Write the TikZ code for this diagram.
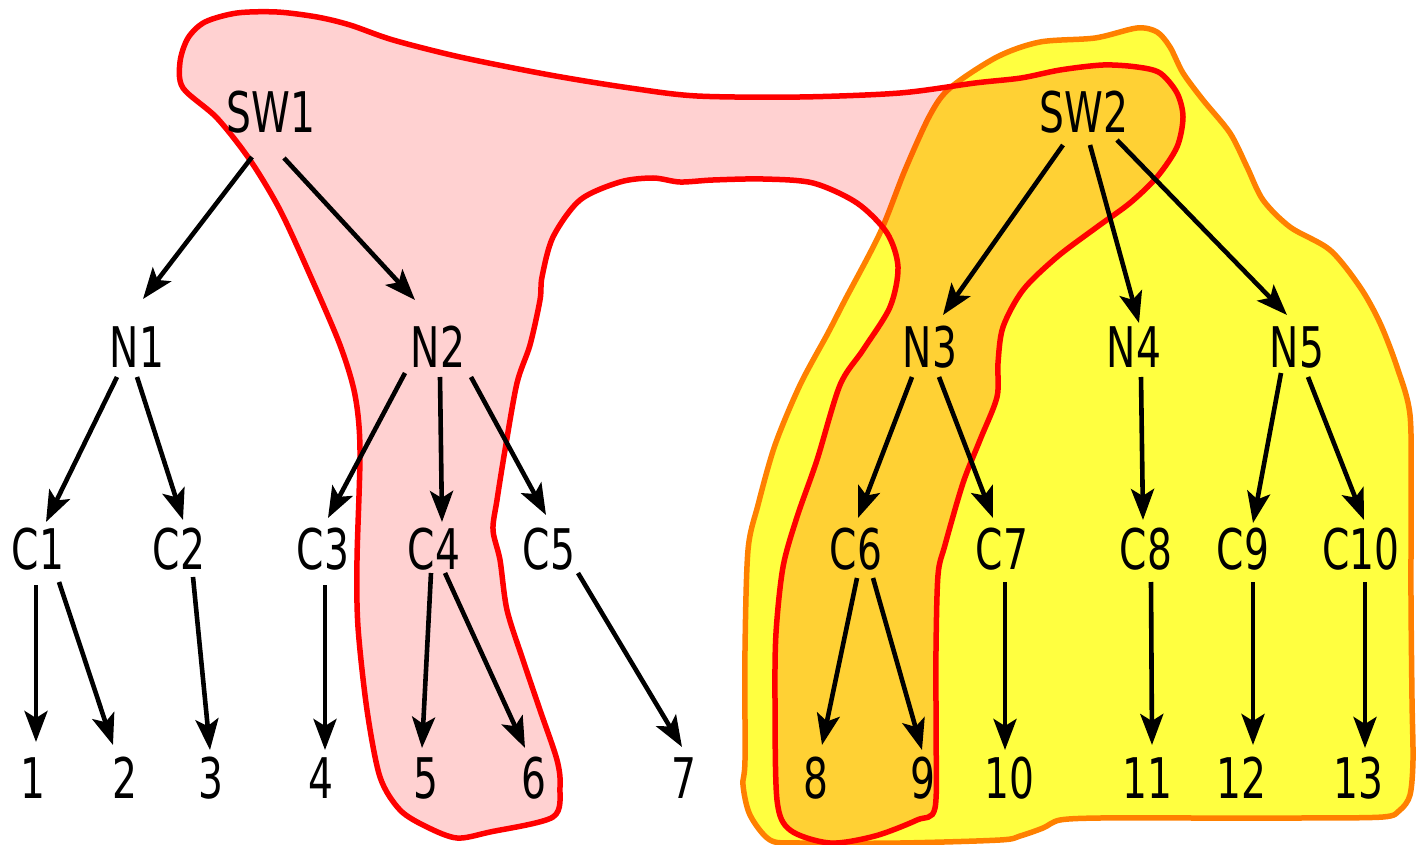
\documentclass[tikz,border=0pt]{standalone}
\usepackage{fontspec}
\setmainfont{DejaVu Sans}[FakeStretch=0.7]
\usepackage{xcolor}
\usepackage{tikz}
\usetikzlibrary{arrows.meta}

\definecolor{groupred}{RGB}{255,0,0}
\definecolor{grouporange}{RGB}{255,128,0}
\definecolor{groupyellow}{RGB}{255,255,64}

\begin{document}
\begin{tikzpicture}[x=1pt,y=-1pt,
        vertex/.style={font=\fontsize{56}{60}\selectfont, inner sep=0pt, text height=41pt, text depth=0pt},
        edge/.style={line width=4.6pt, -{Stealth[length=31pt,width=23pt,inset=7pt]}},
        yellowgroup/.style={draw=grouporange, line width=5.5pt, fill=groupyellow},
        redgroup/.style={draw=groupred, line width=5.5pt, fill=groupred, fill opacity=0.18}]
        \useasboundingbox (0,0) rectangle (1416,845);
        %groups
        \path[yellowgroup] plot[smooth cycle, tension=0.5] coordinates {(800,385) (828,333) (845,300) (880,233) (905,170) (930,115) (950,88) (997,57) (1040,42) (1095,38) (1137,28) (1157,32) (1170,47) (1183,73) (1203,100) (1230,133) (1247,167) (1263,200) (1290,227) (1330,250) (1360,287) (1380,323) (1397,367) (1410,415) (1411,500) (1411,600) (1412,700) (1413,760) (1410,795) (1400,810) (1383,817) (1300,818) (1200,818) (1100,818) (1060,820) (1043,828) (1020,836) (1000,840) (900,843) (800,843) (770,840) (750,815) (743,785) (745,760) (745,650) (748,550) (758,505) (775,445)};
        \path[redgroup] plot[smooth cycle, tension=0.5] coordinates {(183,88) (180,62) (188,38) (205,22) (237,13) (277,12) (317,17) (350,25) (393,40) (460,57) (550,75) (630,88) (697,96) (800,97) (900,93) (975,83) (1021,78) (1060,70) (1103,65) (1137,67) (1160,73) (1177,93) (1183,117) (1177,147) (1157,177) (1130,203) (1097,227) (1057,257) (1023,290) (1003,327) (998,363) (997,397) (980,440) (963,483) (945,545) (938,575) (936,650) (936,730) (935,808) (917,820) (875,836) (830,843) (790,830) (777,800) (775,700) (776,633) (783,567) (797,517) (817,460) (840,385) (863,350) (890,307) (898,267) (887,233) (857,203) (813,183) (763,179) (713,180) (680,182) (653,178) (620,182) (580,200) (553,237) (542,277) (540,300) (530,345) (517,383) (505,450) (497,500) (493,530) (500,560) (507,610) (523,660) (540,710) (557,760) (560,787) (553,817) (490,832) (457,838) (427,827) (400,810) (380,777) (367,710) (358,627) (357,560) (360,450) (355,395) (340,345) (310,275) (280,210) (250,160) (217,118)};
        %switches and nodes
        \node[vertex] (SW1) at (271,112) {SW1};
        \node[vertex] (SW2) at (1084,112) {SW2};
        \node[vertex] (N1) at (137,347) {N1};
        \node[vertex] (N2) at (438,347) {N2};
        \node[vertex] (N3) at (930,347) {N3};
        \node[vertex] (N4) at (1134,347) {N4};
        \node[vertex] (N5) at (1297,347) {N5};
        \node[vertex] (C1) at (38,549) {C1};
        \node[vertex] (C2) at (179,549) {C2};
        \node[vertex] (C3) at (323,549) {C3};
        \node[vertex] (C4) at (434,549) {C4};
        \node[vertex] (C5) at (549,549) {C5};
        \node[vertex] (C6) at (856,549) {C6};
        \node[vertex] (C7) at (1002,549) {C7};
        \node[vertex] (C8) at (1146,549) {C8};
        \node[vertex] (C9) at (1243,549) {C9};
        \node[vertex] (C10) at (1361,549) {C10};
        \node[vertex] (L1) at (33,778) {1};
        \node[vertex] (L2) at (125,778) {2};
        \node[vertex] (L3) at (211,778) {3};
        \node[vertex] (L4) at (321,778) {4};
        \node[vertex] (L5) at (426,778) {5};
        \node[vertex] (L6) at (534,778) {6};
        \node[vertex] (L7) at (684,778) {7};
        \node[vertex] (L8) at (816,778) {8};
        \node[vertex] (L9) at (923,778) {9};
        \node[vertex] (L10) at (1009,778) {10};
        \node[vertex] (L11) at (1147,778) {11};
        \node[vertex] (L12) at (1241,778) {12};
        \node[vertex] (L13) at (1358,778) {13};
        %edges
        \draw[edge] ([shift={(-19,45)}]SW1.center) -- ([shift={(6,-48)}]N1.center);
        \draw[edge] ([shift={(13,46)}]SW1.center) -- ([shift={(-23,-47)}]N2.center);
        \draw[edge] ([shift={(-20,30)}]N1.center) -- ([shift={(8,-27)}]C1.center);
        \draw[edge] ([shift={(0,30)}]N1.center) -- ([shift={(4,-29)}]C2.center);
        \draw[edge] ([shift={(-33,26)}]N2.center) -- ([shift={(5,-31)}]C3.center);
        \draw[edge] ([shift={(2,30)}]N2.center) -- ([shift={(8,-27)}]C4.center);
        \draw[edge] ([shift={(33,30)}]N2.center) -- ([shift={(-3,-34)}]C5.center);
        \draw[edge] ([shift={(-2,36)}]C1.center) -- ([shift={(3,-36)}]L1.center);
        \draw[edge] ([shift={(21,33)}]C1.center) -- ([shift={(-12,-33)}]L2.center);
        \draw[edge] ([shift={(14,28)}]C2.center) -- ([shift={(-1,-28)}]L3.center);
        \draw[edge] ([shift={(2,36)}]C3.center) -- ([shift={(4,-28)}]L4.center);
        \draw[edge] ([shift={(-3,24)}]C4.center) -- ([shift={(-4,-30)}]L5.center);
        \draw[edge] ([shift={(11,24)}]C4.center) -- ([shift={(-9,-30)}]L6.center);
        \draw[edge] ([shift={(29,24)}]C5.center) -- ([shift={(-2,-31)}]L7.center);
        \draw[edge] ([shift={(-21,33)}]SW2.center) -- ([shift={(13,-32)}]N3.center);
        \draw[edge] ([shift={(6,33)}]SW2.center) -- ([shift={(5,-24)}]N4.center);
        \draw[edge] ([shift={(33,28)}]SW2.center) -- ([shift={(-10,-32)}]N5.center);
        \draw[edge] ([shift={(-18,30)}]N3.center) -- ([shift={(2,-31)}]C6.center);
        \draw[edge] ([shift={(9,30)}]N3.center) -- ([shift={(-9,-31)}]C7.center);
        \draw[edge] ([shift={(7,30)}]N4.center) -- ([shift={(-3,-29)}]C8.center);
        \draw[edge] ([shift={(-16,26)}]N5.center) -- ([shift={(10,-26)}]C9.center);
        \draw[edge] ([shift={(11,30)}]N5.center) -- ([shift={(3,-29)}]C10.center);
        \draw[edge] ([shift={(1,29)}]C6.center) -- ([shift={(6,-33)}]L8.center);
        \draw[edge] ([shift={(17,29)}]C6.center) -- ([shift={(-1,-28)}]L9.center);
        \draw[edge] ([shift={(3,33)}]C7.center) -- ([shift={(-4,-28)}]L10.center);
        \draw[edge] ([shift={(5,33)}]C8.center) -- ([shift={(5,-33)}]L11.center);
        \draw[edge] ([shift={(10,33)}]C9.center) -- ([shift={(12,-33)}]L12.center);
        \draw[edge] ([shift={(4,33)}]C10.center) -- ([shift={(7,-30)}]L13.center);
\end{tikzpicture}
\end{document}
